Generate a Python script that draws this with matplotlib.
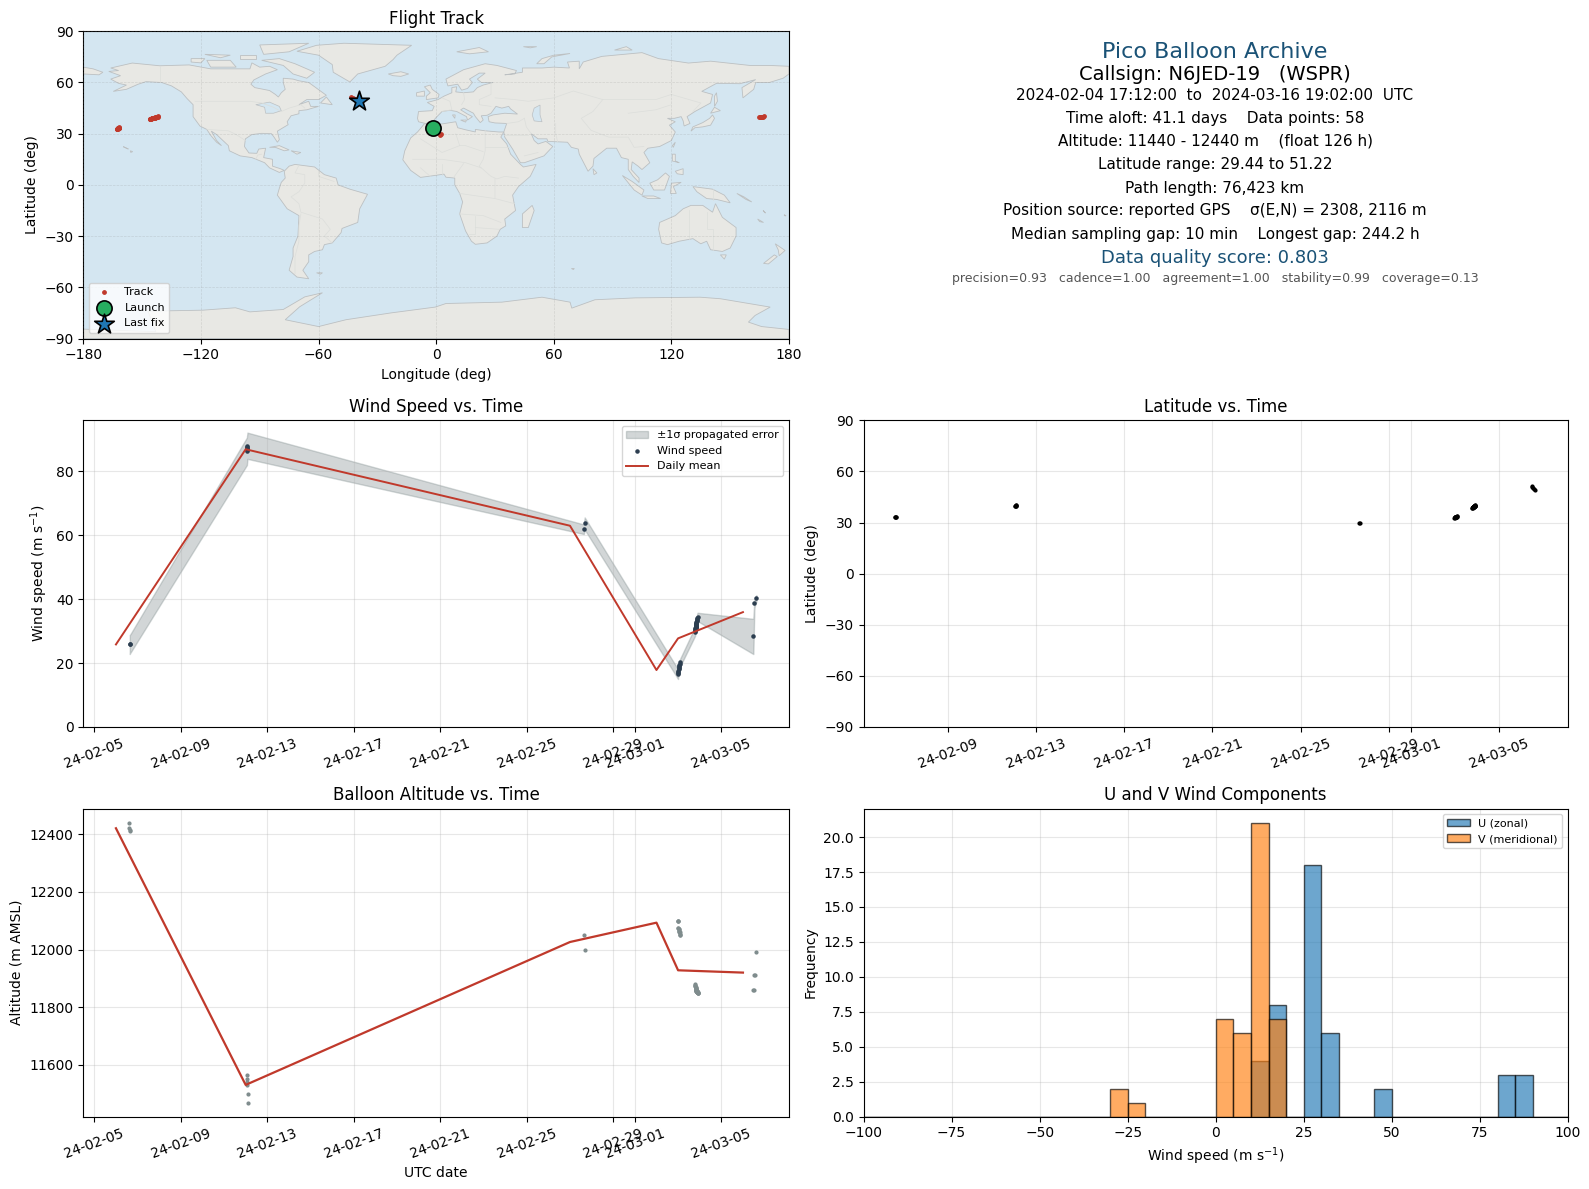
import numpy as np
import pandas as pd
import matplotlib
matplotlib.use("Agg")
import matplotlib.pyplot as plt
import matplotlib.dates as mdates

# flight data, times are day numbers counted from 2024-01-31 (so 1 = Feb 1, 30 = Mar 1)
track_days = [6.60, 6.62, 6.63, 6.65,
              12.05, 12.06, 12.07, 12.08, 12.09, 12.10,
              27.64, 27.68,
              31.98, 31.99, 32.00, 32.00, 32.01, 32.02, 32.03, 32.04, 32.05, 32.06, 32.07, 32.08, 32.09, 32.10,
              32.78, 32.79, 32.80, 32.80, 32.81, 32.81, 32.82, 32.82, 32.83, 32.83, 32.84, 32.84, 32.85, 32.85,
              32.86, 32.86, 32.87, 32.87, 32.88, 32.88, 32.89, 32.89, 32.90, 32.90, 32.91, 32.91, 32.92,
              35.48, 35.50, 35.53, 35.58, 35.62]
lat_deg = [33.0, 33.1, 33.2, 33.3,
           39.6, 39.7, 39.8, 39.9, 40.0, 40.1,
           29.44, 29.6,
           32.8, 32.9, 33.0, 33.0, 33.1, 33.1, 33.2, 33.2, 33.3, 33.3, 33.4, 33.5, 33.6, 33.7,
           38.6, 38.7, 38.8, 38.9, 38.9, 39.0, 39.0, 39.1, 39.1, 39.2, 39.2, 39.3, 39.3, 39.4,
           39.4, 39.5, 39.5, 39.6, 39.6, 39.7, 39.7, 39.8, 39.8, 39.9, 39.9, 40.0, 40.1,
           51.22, 50.9, 50.5, 49.9, 49.2]
lon_deg = [-1.4, -1.0, 0.0, 0.4,
           164.7, 165.0, 165.5, 166.0, 166.5, 167.0,
           2.1, 2.6,
           -162.8, -162.7, -162.6, -162.5, -162.4, -162.3, -162.2, -162.2, -162.1, -162.0, -161.9, -161.8, -161.7, -161.6,
           -146.2, -146.0, -145.8, -145.6, -145.4, -145.2, -145.0, -144.8, -144.6, -144.4, -144.2, -144.0, -143.8, -143.6,
           -143.4, -143.2, -143.0, -142.9, -142.8, -142.7, -142.6, -142.5, -142.4, -142.3, -142.2, -142.1, -142.0,
           -43.4, -42.5, -41.5, -40.2, -39.2]
alt_m = [12440, 12420, 12415, 12410,
         11565, 11550, 11540, 11530, 11500, 11470,
         12050, 12000,
         12100, 12100, 12100, 12075, 12075, 12070, 12070, 12065, 12065, 12060, 12060, 12055, 12050, 12050,
         11880, 11878, 11875, 11872, 11870, 11868, 11866, 11864, 11862, 11860, 11860, 11858, 11858, 11856,
         11856, 11855, 11855, 11854, 11854, 11853, 11853, 11852, 11852, 11851, 11851, 11850, 11850,
         11860, 11860, 11910, 11910, 11990]

wind_days = [6.64, 6.66,
             12.06, 12.06, 12.07, 12.07, 12.08, 12.08,
             27.64, 27.68,
             32.00, 32.00, 32.01, 32.01, 32.02, 32.02, 32.03, 32.04, 32.05, 32.08, 32.10,
             32.78, 32.79, 32.79, 32.80, 32.80, 32.81, 32.81, 32.82, 32.82, 32.83,
             32.83, 32.84, 32.84, 32.85, 32.85, 32.86, 32.87, 32.88, 32.89, 32.90,
             35.48, 35.53, 35.62]
wind_ms = [25.8, 26.0,
           86.2, 86.5, 87.0, 87.2, 87.5, 87.9,
           61.8, 63.6,
           16.5, 16.9, 17.3, 17.6, 18.0, 18.3, 18.7, 19.0, 19.4, 19.8, 20.2,
           29.8, 30.0, 30.3, 30.6, 30.8, 31.0, 31.2, 31.3, 31.5, 31.7,
           31.9, 32.1, 32.3, 32.6, 32.9, 33.2, 33.5, 33.8, 34.1, 34.4,
           28.3, 38.6, 40.2]
wind_sigma = [3.0, 2.9,
              4.3, 4.3, 4.2, 4.2, 4.1, 4.1,
              1.5, 1.9,
              1.5, 1.5, 1.4, 1.4, 1.3, 1.3, 1.3, 1.2, 1.2, 1.2, 1.2,
              1.4, 1.4, 1.4, 1.4, 1.4, 1.4, 1.4, 1.4, 1.4, 1.4,
              1.4, 1.4, 1.4, 1.4, 1.4, 1.4, 1.4, 1.4, 1.4, 1.3,
              5.5, 1.2, 1.0]

daily_days = [6, 12, 27, 31, 32, 35]
daily_wind = [25.8, 86.8, 62.9, 17.8, 27.7, 35.9]
daily_alt = [12420, 11531, 12026, 12093, 11928, 11920]

u_wind = [11, 12, 13, 14,
          15.5, 16, 16.5, 17, 17.5, 18, 18.5, 19,
          25.5, 26, 26, 26.5, 26.5, 27, 27, 27.5, 27.5, 28, 28, 28, 28.5, 28.5, 29, 29, 29.5, 29.5,
          30.5, 31, 31.5, 32, 33, 34,
          46, 48,
          81, 82, 84, 86, 87, 89]
v_wind = [-28, -27, -22,
          1, 1.5, 2, 3, 3, 4, 4.5,
          5.5, 6, 7, 8, 8.5, 9.5,
          10.2, 10.4, 10.6, 10.8, 11, 11.2, 11.4, 11.6, 11.8, 12, 12.2, 12.4, 12.6, 12.8, 13, 13.2, 13.4, 13.6, 13.8, 14, 14.5,
          15.5, 16, 16.5, 17, 17.5, 18, 19]

hist_bins = list(range(-100, 105, 5))
lon_ticks = [-180, -120, -60, 0, 60, 120, 180]
lat_ticks = [-90, -60, -30, 0, 30, 60, 90]
launch = (-1.4, 33.1)
last_fix = (-39.2, 49.2)

summary_lines = [
    ("Pico Balloon Archive", 16, "#1a5276", 51.7),
    ("Callsign: N6JED-19   (WSPR)", 14, "black", 74),
    ("2024-02-04 17:12:00  to  2024-03-16 19:02:00  UTC", 11, "black", 95.5),
    ("Time aloft: 41.1 days    Data points: 58", 11, "black", 118),
    ("Altitude: 11440 - 12440 m    (float 126 h)", 11, "black", 141),
    ("Latitude range: 29.44 to 51.22", 11, "black", 164),
    ("Path length: 76,423 km", 11, "black", 188),
    ("Position source: reported GPS    σ(E,N) = 2308, 2116 m", 11, "black", 210),
    ("Median sampling gap: 10 min    Longest gap: 244.2 h", 11, "black", 234),
    ("Data quality score: 0.803", 13, "#1a5276", 258),
    ("precision=0.93   cadence=1.00   agreement=1.00   stability=0.99   coverage=0.13", 9, "#555555", 279),
]

# land outlines (lon, lat), rough coast
north_america = [(-167, 66.5), (-162, 67), (-166, 68.5), (-155, 71.4), (-141, 69.8), (-126, 70.3), (-115, 68), (-108, 68),
                 (-95, 68), (-94, 71.5), (-90, 69), (-85, 69.5), (-81, 67.5), (-87, 65), (-93, 61.5), (-94.5, 59), (-92.5, 57),
                 (-85, 55.3), (-82, 53), (-80.5, 51.5), (-79, 54), (-77, 56), (-78, 60), (-78, 62.5), (-73, 62), (-70, 61),
                 (-65, 60), (-62, 57.5), (-56, 52.5), (-60, 50), (-66, 50), (-70, 47), (-65, 49), (-64, 46), (-60, 46),
                 (-66, 44), (-70, 43.5), (-70, 41.7), (-74, 40.5), (-76, 37), (-75.5, 35.3), (-81, 31.5), (-80, 26.5),
                 (-81, 25), (-82.7, 28), (-84, 30), (-89, 30.2), (-94, 29.5), (-97.3, 27), (-97.8, 22.5), (-95.5, 18.7),
                 (-91.5, 18.5), (-90.5, 21), (-87, 21.5), (-88, 16), (-83.5, 15), (-83.5, 11), (-79.5, 9.5), (-77.5, 8.5),
                 (-80, 7.3), (-85, 10), (-87.5, 13), (-94, 16), (-100, 17), (-105.5, 20), (-106, 23), (-112, 29.5),
                 (-114.7, 31.5), (-112, 26), (-109.5, 23), (-112, 25), (-115, 29), (-117, 32.5), (-120.5, 34.5), (-124, 40),
                 (-124, 47), (-127, 50.5), (-130, 54.5), (-135, 58), (-140, 60), (-148, 60.5), (-152, 59), (-158, 56),
                 (-164.7, 54.8), (-158, 58.5), (-162, 59.5), (-166, 62), (-161, 64)]
south_america = [(-72, 12), (-62, 10.5), (-57, 6), (-51, 4), (-50, 0), (-44, -2.5), (-35, -5.5), (-39, -14), (-40, -22),
                 (-48, -25.5), (-48.5, -28), (-53, -34), (-57, -35), (-58, -38), (-62, -39), (-65, -41), (-65, -45),
                 (-68, -50), (-65, -55), (-71, -54), (-75, -50), (-73, -42), (-73, -37), (-70.5, -30), (-70, -18),
                 (-76, -14), (-81, -6), (-80, -2), (-79, 1.5), (-77, 4), (-77.5, 8), (-75, 11)]
eurasia = [(-9, 37), (-9.5, 39), (-9, 43), (-2, 43.5), (-1, 46), (-4.5, 48.3), (1, 50), (4, 52), (8, 54), (8, 57), (10.5, 57.5),
           (10, 54.5), (14, 54), (19, 54.5), (21, 57), (24, 58.5), (29, 60), (23, 60), (21, 62), (25, 65.5), (22, 65.5),
           (17, 62), (18.5, 60), (16, 56.5), (13, 55.5), (11, 59), (6, 58), (5, 62), (14, 67.5), (25, 71), (31, 70), (41, 67),
           (40, 65), (35, 64.5), (44, 66), (44, 68.5), (54, 68.5), (60, 69), (68, 68.5), (67, 72), (73, 72.5), (73, 68),
           (75, 72), (84.5, 75.3), (105, 77.5), (113.4, 74), (128.7, 71.4), (140, 72.5), (160, 70), (170, 70), (180, 69.5), (180, 65),
           (177, 62.5), (170, 60), (163, 60), (162, 56), (156.5, 51), (156, 57), (163, 61.7), (155, 59.3), (143, 59.5),
           (135.5, 54.8), (141, 53), (140, 48), (132, 43), (128, 40), (129.5, 36), (126.5, 34.5), (126, 37.5), (125, 40),
           (121.5, 39), (118, 39), (122, 37), (119, 35), (122, 31), (120, 26), (114, 22.5), (108, 21.5), (106, 19), (109, 13),
           (105, 9), (103, 11), (100, 13.5), (99.5, 9), (103.5, 4), (103.5, 1.4), (100.5, 5), (98, 9), (98, 15), (94.5, 16),
           (92, 21.5), (87, 21.5), (80.5, 15.5), (80, 11), (77.5, 8), (73, 18), (72.5, 21), (69, 22), (67, 25), (57, 25.5),
           (56.5, 27), (52, 27), (48.5, 30), (50, 26), (52, 24), (56, 25.5), (59.5, 22.5), (55, 17), (45, 13), (43, 13),
           (39, 21), (35, 28), (34.5, 31), (36, 36), (30, 36.3), (27, 37), (26.5, 40), (29, 41), (35, 42), (41.5, 41.5),
           (38, 44.5), (37, 46), (33.5, 45), (30.5, 46), (28, 42), (26, 40.8), (23, 40.5), (24, 38), (22.5, 36.5), (20, 40),
           (19, 42), (14, 45), (12.5, 44), (16, 41.5), (18.5, 40), (16, 38), (15.5, 40), (10.5, 43), (7, 43.7), (3, 43),
           (0, 39.5), (-2, 36.8), (-5.5, 36)]
africa = [(-6, 35.8), (-1, 35), (10, 37), (11, 33.5), (15, 32.3), (20, 31), (20, 32.5), (25, 31.7), (32, 31), (34.5, 31), (33, 28),
          (36, 24), (38, 18), (43, 12), (44.5, 10.5), (51, 12), (48, 5), (42, -1), (39, -6), (40.5, -15), (35, -20), (35.5, -24),
          (32.7, -26), (31, -30), (26, -34), (20, -34.8), (18, -33), (15, -27), (12, -17), (13.5, -10), (12, -5), (9.5, 0),
          (9.5, 4), (5, 4.5), (4, 6.3), (-4, 5), (-8, 4.4), (-13, 8.5), (-17, 14.7), (-16, 20), (-13, 27.5), (-9.5, 31)]
australia = [(114, -22), (113.5, -26), (115, -34), (118, -35), (124, -33), (131, -31.5), (135, -34.5), (138, -33), (140, -38),
             (146, -39), (150, -37), (153, -30), (153, -25), (146, -19), (142.5, -11), (141, -16), (136, -12), (130, -12),
             (126, -14), (122, -18)]
greenland = [(-71, 78.3), (-61, 81.8), (-47, 83), (-12.5, 81.8), (-20, 76), (-22, 73.4), (-26, 69.5), (-40, 65), (-44, 60.3),
             (-52.5, 66), (-53, 70.5), (-60, 76)]
antarctica = [(-180, -90), (-180, -84.5), (-143, -86), (-147, -74), (-119, -73.4), (-102.4, -72), (-95, -74.4), (-78, -73),
              (-67, -65.6), (-58, -63.2), (-69.6, -71.4), (-77, -79), (-60, -83), (-46, -79), (-23, -75), (-0.5, -71.6),
              (5, -69.5), (33.5, -68.7), (54, -65.8), (68.3, -68.7), (69.2, -72.2), (81, -67.3), (101.5, -66.2), (134.7, -65.8),
              (145, -66.7), (170.4, -71.6), (162.7, -76.5), (159.3, -80.4), (166, -83), (180, -84.7), (180, -90)]
islands = [
    [(-180, 65), (-172, 64.5), (-170, 66), (-175, 68), (-180, 69)],
    [(-5, 50), (1, 51), (1.5, 53), (-2, 56), (-3, 58.5), (-6, 57.5), (-3, 54), (-5, 52)],
    [(-10, 52), (-6, 52), (-6, 55), (-10, 54)],
    [(-24.4, 65), (-18, 66.3), (-14, 65), (-18, 63.6), (-22, 64)],
    [(130, 31.5), (132, 33.5), (136, 34), (140, 35), (142, 39), (141, 41), (139.5, 39), (136, 36.5), (131, 34)],
    [(140, 42), (145, 43.5), (142, 45.5)],
    [(142, 46), (143.5, 49), (143, 54), (142, 52)],
    [(44, -25), (47, -25), (50, -15), (49, -12), (44, -17)],
    [(172.5, -41), (174, -42), (169.5, -46.3), (167, -46)],
    [(173, -34.5), (178, -38.4), (175, -41.5), (174.5, -38)],
    [(145, -41), (148, -41), (147, -43.5)],
    [(131, -1), (141, -2.5), (147, -6), (150, -10.5), (143, -8.5), (138, -8), (133, -4)],
    [(109, 1), (113, 3), (117, 7), (119, 5), (116.5, -3), (111, -3)],
    [(95, 5.5), (100, 2), (106, -3), (105, -6), (101, -3)],
    [(105, -6.5), (111, -6.5), (114.5, -8), (108, -8)],
    [(119.5, -5), (120, 1), (125, 1.5), (121, -1), (122.5, -5)],
    [(120.5, 18), (122, 18), (122, 14), (124, 13), (120.5, 14)],
    [(122, 8), (126, 9.5), (126, 6), (123, 6.5)],
    [(-85, 22), (-80, 23), (-75, 20.5), (-77.5, 20), (-82, 22)],
    [(-74, 20), (-69, 19), (-71, 18)],
    [(-59, 48), (-56, 51.5), (-53, 47)],
    [(-80, 74), (-72, 71), (-66, 68), (-62, 66), (-66, 62.5), (-73, 65), (-78, 70), (-89, 73)],
    [(-117, 73), (-105, 73), (-102, 69), (-115, 69)],
    [(-125, 74), (-118, 74), (-120, 71.5), (-125, 72)],
    [(-90, 82), (-65, 83), (-75, 78), (-88, 76.5)],
    [(-100, 76), (-92, 76), (-92, 74), (-100, 74)],
    [(-118, 76.5), (-105, 76), (-110, 74.5)],
    [(80, 9.5), (82, 7), (80.5, 6)],
    [(120.5, 23), (122, 25), (121, 22)],
    [(51.3, 71), (55, 71), (59, 75), (68.3, 77), (60, 76), (54, 74)],
    [(10.5, 78), (22, 80.5), (26.7, 78), (17, 76.8)],
    [(44.5, 81), (51.3, 81), (48, 80.3)],
    [(91, 79), (97, 81), (100, 79)],
    [(12.5, 38), (15.5, 38), (15, 36.8)],
    [(8.3, 41), (9.7, 41), (9.5, 39)],
    [(-61, -51.5), (-58, -51.5), (-59, -52.3)],
    [(-159.6, 22.4), (-158, 21.5), (-157, 21)],
    [(-156, 20), (-154.8, 19.5), (-155.8, 19)],
    [(69, -49), (70.5, -49), (70, -49.6)],
    [(153.4, -5), (157, -7), (161, -10), (158, -8.5)],
    [(164, -20), (167, -22), (165, -21.5)],
    [(166.8, -15), (168, -16.5), (167.5, -16)],
    [(177.5, -17.5), (178.5, -18), (178, -18.2)],
]
lakes = [
    [(50, 45), (53, 46.8), (53, 41), (54, 37), (50, 37.5), (49, 41)],
    [(-92, 47), (-85, 48.5), (-80, 46), (-79, 43.5), (-83, 42), (-87, 42), (-87.5, 45.5)],
]
borders = [
    [(-141, 69.7), (-141, 60)], [(-123, 49), (-95, 49), (-89, 48), (-83, 45.5), (-79, 43), (-75, 45), (-69, 47), (-67, 45)],
    [(-117, 32.5), (-106, 31.7), (-102, 29.5), (-97.3, 26)], [(-92, 15), (-91, 17.5), (-89, 18)],
    [(-70, 11.5), (-72, 7), (-67, 6), (-67, 1), (-70, -4), (-74, -7), (-70, -11), (-69, -16), (-58, -20), (-54, -26), (-57, -30), (-53, -34)],
    [(-69, -17), (-70, -24), (-70, -33), (-72, -42), (-72, -52)], [(-60, 8), (-60, 5), (-52, 2)],
    [(28, 60), (28, 53), (22, 50), (22, 47), (28, 46)], [(14, 54), (14.5, 50), (13, 47)], [(3, 43), (8, 44), (7, 49), (3, 51)],
    [(30, 51), (40, 50), (47, 49), (60, 51), (70, 55), (85, 50), (98, 50), (112, 50), (120, 53), (135, 48), (131, 43)],
    [(85, 50), (80, 43), (74, 39), (79, 32), (88, 28), (98, 28), (101, 22), (106, 22.5)], [(98, 42), (112, 44), (120, 47)],
    [(61, 36), (61, 30), (62, 25)], [(45, 39), (46, 34), (48.5, 30)], [(36, 36), (42, 37), (45, 39)], [(34.5, 29), (47, 29)], [(52, 19), (45, 17)],
    [(25, 32), (25, 20), (24, 15), (22, 11), (28, 5), (31, 3.5), (35, 5), (42, 4)], [(25, 22), (37, 22)], [(-8, 27), (3, 19), (12, 23), (10, 30)],
    [(12, 23), (15, 23), (24, 19.5)], [(-12, 15), (3, 15), (15, 13), (23, 10)], [(-8, 10), (-3, 5)], [(3, 12), (3, 6)], [(9, 4.5), (14, 12.5)],
    [(12, -5), (30, -8), (30, -1), (30, 3.5)], [(30, -8), (40, -11)], [(12, -17), (24, -18), (33, -22)], [(20, -18), (20, -29), (17, -29)], [(20, -25), (32, -26)],
    [(129, -15), (129, -31.5)], [(138, -16), (138, -26), (141, -26), (141, -38)], [(141, -2.5), (141, -9)],
]

DPI = 100
FIG_W, FIG_H = 1589, 1189
fig = plt.figure(figsize=(FIG_W / DPI, FIG_H / DPI), dpi=DPI)


def axes_px(x0, y0, x1, y1):
    return fig.add_axes([x0 / FIG_W, 1 - y1 / FIG_H, (x1 - x0) / FIG_W, (y1 - y0) / FIG_H])


def to_dates(days):
    return pd.Timestamp("2024-01-31") + pd.to_timedelta(days, unit="D")


def date_axis(ax, day_range):
    ax.set_xlim(*to_dates(day_range))
    ax.xaxis.set_major_locator(mdates.DayLocator(bymonthday=range(1, 32, 4)))
    ax.xaxis.set_major_formatter(mdates.DateFormatter("%y-%m-%d"))
    ax.tick_params(axis="x", rotation=20)
    ax.grid(True, alpha=0.3)


track_t = to_dates(track_days)
wind_t = to_dates(wind_days)
daily_t = to_dates(daily_days)
wind_arr = np.array(wind_ms)
sigma_arr = np.array(wind_sigma)
left_days = [4.49, 37.13]
right_days = [5.17, 37.13]

# map
ax = axes_px(83.3, 31.3, 789, 338.5)
ax.set_facecolor("#d4e6f1")
land_c = "#e8e8e4"
coast_c = "#bcc0c2"
for poly in [north_america, south_america, eurasia, africa, australia, greenland, antarctica] + islands:
    ax.fill(*zip(*poly), facecolor=land_c, edgecolor=coast_c, lw=0.6, zorder=1)
for poly in lakes:
    ax.fill(*zip(*poly), facecolor="#d4e6f1", edgecolor=coast_c, lw=0.5, zorder=1.1)
for line in borders:
    ax.plot(*zip(*line), color="#dcdedb", lw=0.5, zorder=1.2)
ax.scatter(lon_deg, lat_deg, s=6, color="#c0392b", zorder=3, label="Track")
ax.scatter(*launch, s=120, color="#27ae60", edgecolor="black", linewidth=1.2, zorder=4, label="Launch")
ax.scatter(*last_fix, s=220, marker="*", color="#1f77b4", edgecolor="black", linewidth=1.2, zorder=5, label="Last fix")
ax.set_xlim(-180, 180)
ax.set_ylim(-90, 90)
ax.set_xticks(lon_ticks)
ax.set_yticks(lat_ticks)
ax.grid(True, color="gray", alpha=0.22, lw=0.5, ls="--")
ax.set_axisbelow(False)
ax.set_xlabel("Longitude (deg)")
ax.set_ylabel("Latitude (deg)")
ax.set_title("Flight Track", pad=5.5)
ax.legend(loc="lower left", fontsize=8, framealpha=0.8)

# summary text
ax = axes_px(864, 31.3, 1568, 338.5)
ax.axis("off")
for txt, size, col, ypx in summary_lines:
    fig.text(1215 / FIG_W, 1 - ypx / FIG_H, txt, fontsize=size, color=col, ha="center", va="center")

# wind speed
ax = axes_px(83.3, 420.3, 789, 727)
ax.fill_between(wind_t, wind_arr - sigma_arr, wind_arr + sigma_arr, color="#7f8c8d", alpha=0.35, label="±1σ propagated error")
ax.scatter(wind_t, wind_arr, s=5, color="#2c3e50", label="Wind speed", zorder=3)
ax.plot(daily_t, daily_wind, color="#c0392b", lw=1.4, label="Daily mean", zorder=4)
ax.set_ylim(bottom=0)
ax.set_ylabel("Wind speed (m s$^{-1}$)")
ax.set_title("Wind Speed vs. Time")
ax.legend(loc="upper right", fontsize=8)
date_axis(ax, left_days)

# latitude
ax = axes_px(863.5, 420.3, 1568, 727)
ax.scatter(track_t, lat_deg, s=4, color="black", zorder=3)
ax.set_ylim(-90, 90)
ax.set_yticks(lat_ticks)
ax.set_ylabel("Latitude (deg)")
ax.set_title("Latitude vs. Time")
date_axis(ax, right_days)

# altitude
ax = axes_px(83.3, 808.5, 789, 1116.5)
ax.scatter(track_t, alt_m, s=4, color="#7f8c8d", zorder=3)
ax.plot(daily_t, daily_alt, color="#c0392b", lw=1.6, zorder=4)
ax.set_ylim(11421.5, 12488.5)
ax.set_yticks([11600, 11800, 12000, 12200, 12400])
ax.set_xlabel("UTC date")
ax.set_ylabel("Altitude (m AMSL)")
ax.set_title("Balloon Altitude vs. Time")
date_axis(ax, left_days)

# u and v histogram
ax = axes_px(863.5, 808.5, 1568, 1116.5)
ax.hist(u_wind, bins=hist_bins, color="tab:blue", alpha=0.65, edgecolor="black", label="U (zonal)", zorder=3)
ax.hist(v_wind, bins=hist_bins, color="tab:orange", alpha=0.65, edgecolor="black", label="V (meridional)", zorder=3)
ax.set_xlim(-100, 100)
ax.set_xlabel("Wind speed (m s$^{-1}$)")
ax.set_ylabel("Frequency")
ax.set_title("U and V Wind Components")
ax.legend(loc="upper right", fontsize=8)
ax.grid(True, alpha=0.3)

fig.savefig("out.png", dpi=DPI)
